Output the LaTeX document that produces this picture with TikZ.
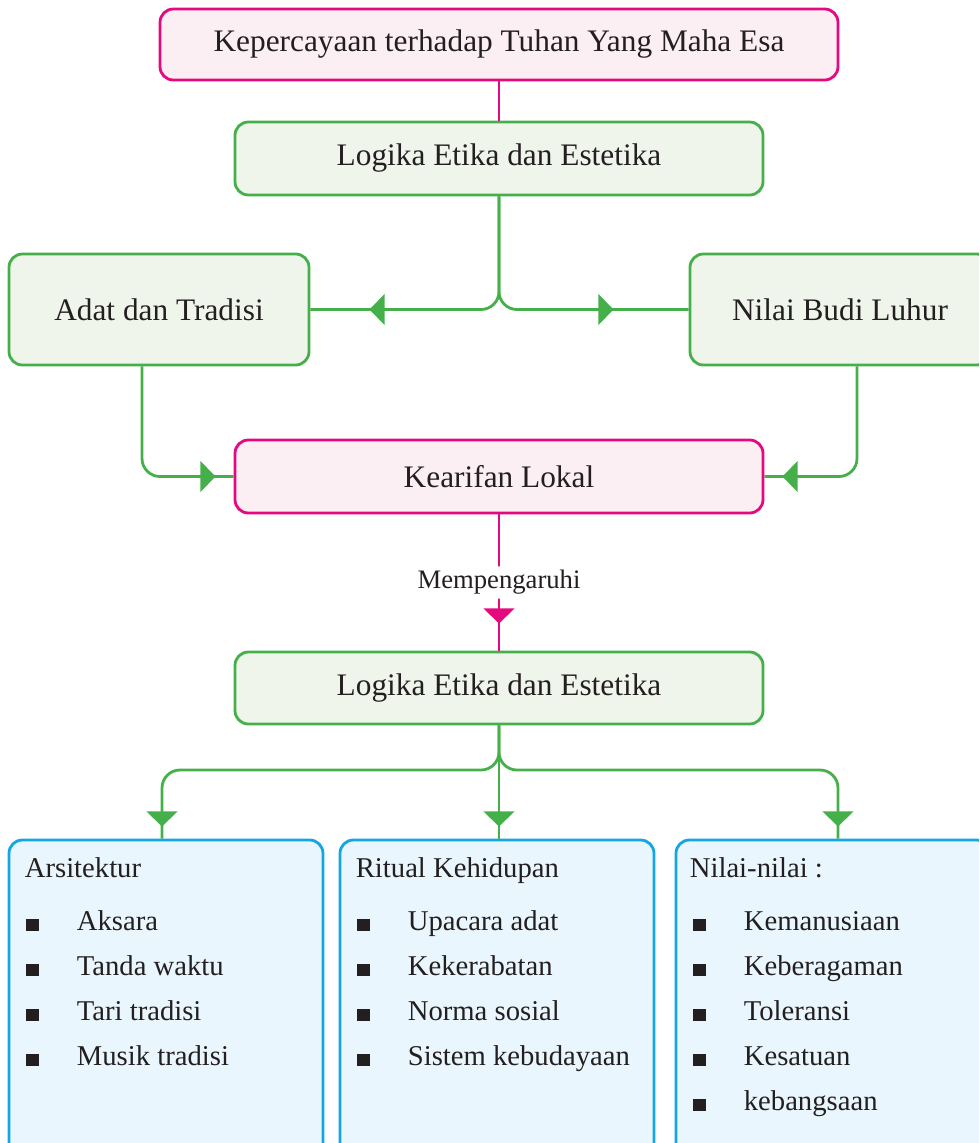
\documentclass[tikz,border=0pt]{standalone}
\usepackage{fontspec}
\setmainfont{Liberation Serif}
\usetikzlibrary{arrows.meta,decorations.markings,calc}

\definecolor{kpink}{HTML}{E5097F}
\definecolor{kpinkfill}{HTML}{FCEFF4}
\definecolor{kgreen}{HTML}{45AF49}
\definecolor{kgreenfill}{HTML}{F0F5EC}
\definecolor{kblue}{HTML}{12A7E2}
\definecolor{kbluefill}{HTML}{EAF6FD}
\definecolor{ktext}{HTML}{231F20}

\tikzset{
  box/.style={draw,line width=2.1pt,rounded corners=10pt,inner sep=0pt,text=ktext,
    font=\fontsize{23.5}{28}\selectfont},
  pinkbox/.style={box,draw=kpink,fill=kpinkfill},
  greenbox/.style={box,draw=kgreen,fill=kgreenfill},
  listbox/.style={box,draw=kblue,fill=kbluefill,minimum width=235.5pt,minimum height=240pt},
  listtitle/.style={anchor=base west,inner sep=0pt,text=ktext,font=\fontsize{21.5}{26}\selectfont},
  item/.style={listtitle,execute at begin node={\makebox[38.25pt][l]{\rule{9.75pt}{9pt}}}},
  link/.style={line width=2.1pt,rounded corners=13.5pt},
  glink/.style={link,draw=kgreen},
  plink/.style={link,draw=kpink},
  tipat/.style={postaction={decorate},decoration={markings,
    mark=at position #1 with {\arrow{Triangle[length=11.5pt,width=23pt]}}}},
  midlabel/.style={fill=white,inner sep=3pt,text=ktext,font=\fontsize{20}{24}\selectfont}
}

\begin{document}
\begin{tikzpicture}[x=0.75pt,y=-0.75pt]
  \clip (0,0) rectangle (979,1143);

  \node[pinkbox,minimum width=508.5pt,minimum height=53.25pt] (tuhan) at (499,44.5)
    {Kepercayaan terhadap Tuhan Yang Maha Esa};
  \node[greenbox,minimum width=396pt,minimum height=54.75pt] (logika1) at (499,158.5)
    {Logika Etika dan Estetika};
  \node[greenbox,minimum width=225pt,minimum height=83.25pt] (adat) at (159,309.5)
    {Adat dan Tradisi};
  \node[greenbox,minimum width=225pt,minimum height=83.25pt] (budi) at (840,309.5)
    {Nilai Budi Luhur};
  \node[pinkbox,minimum width=396pt,minimum height=54.75pt] (kearifan) at (499,476.5)
    {Kearifan Lokal};
  \node[greenbox,minimum width=396pt,minimum height=54pt] (logika2) at (499,688)
    {Logika Etika dan Estetika};

  \node[listbox] (arsi) at (166,1000) {};
  \node[listbox] (ritual) at (497,1000) {};
  \node[listbox] (nilai) at (833,1000) {};

  % isi kotak bawah
  \node[listtitle] (arsi-t) at ($(arsi.north west)+(17,39)$) {Arsitektur};
  \foreach \t [count=\i] in {Aksara,Tanda waktu,Tari tradisi,Musik tradisi}
    \node[item] (arsi-\i) at ($(arsi.north west)+(18,47+45*\i)$) {\t};
  \node[listtitle] (ritual-t) at ($(ritual.north west)+(17,39)$) {Ritual Kehidupan};
  \foreach \t [count=\i] in {Upacara adat,Kekerabatan,Norma sosial,Sistem kebudayaan}
    \node[item] (ritual-\i) at ($(ritual.north west)+(18,47+45*\i)$) {\t};
  \node[listtitle] (nilai-t) at ($(nilai.north west)+(15,39)$) {Nilai-nilai :};
  \foreach \t [count=\i] in {Kemanusiaan,Keberagaman,Toleransi,Kesatuan,kebangsaan}
    \node[item] (nilai-\i) at ($(nilai.north west)+(18,47+45*\i)$) {\t};

  \coordinate (ja) at (142,478);
  \coordinate (jb) at (857,478);
  \coordinate (bl) at (162,770);
  \coordinate (br) at (838,770);

  \draw[plink] (tuhan) -- (logika1);
  \draw[glink,tipat=-44.25pt] (logika1.south) |- (adat.east);
  \draw[glink,tipat=-56.25pt] (logika1.south) |- (budi.west);
  \draw[glink,tipat=-13.5pt] (ja |- adat.south) |- (kearifan.west);
  \draw[glink,tipat=-13.5pt] (jb |- budi.south) |- (kearifan.east);
  \draw[plink,tipat=-20.25pt] (kearifan) -- node[midlabel] (pengaruh) {Mempengaruhi} (logika2);
  \draw[glink,tipat=-9pt] (logika2.south) |- (bl) -- (bl |- arsi.north);
  \draw[glink,tipat=-9pt] (logika2.south) -- (logika2.south |- ritual.north);
  \draw[glink,tipat=-9pt] (logika2.south) |- (br) -- (br |- nilai.north);
\end{tikzpicture}
\end{document}
